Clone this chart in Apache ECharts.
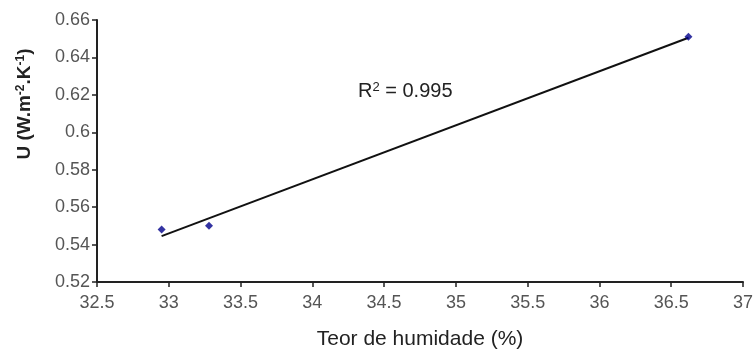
<!DOCTYPE html>
<html>
<head>
<meta charset="utf-8">
<script src="https://cdn.jsdelivr.net/npm/echarts@6/dist/echarts.min.js"></script>
<style>
  html, body { margin: 0; padding: 0; background: #fff; }
  #chart { width: 756px; height: 351px; }
</style>
</head>
<body>
<div id="chart"></div>
<script>
// medições
const teorHumidade = [32.95, 33.28, 36.62];
const valorU = [0.548, 0.550, 0.651];
// recta de tendência (extremos)
const trendX = [32.95, 36.62];
const trendY = [0.5445, 0.6505];

const points = teorHumidade.map((x, i) => [x, valorU[i]]);
const trend = trendX.map((x, i) => [x, trendY[i]]);

const chart = echarts.init(document.getElementById('chart'));

const option = {
  animation: false,
  grid: { left: 97, right: 13, top: 20, bottom: 69, outerBoundsMode: 'none' },
  xAxis: {
    type: 'value',
    min: 32.5, max: 37, interval: 0.5,
    name: 'Teor de humidade (%)',
    nameLocation: 'middle',
    nameGap: 47,
    nameTextStyle: { fontFamily: 'Liberation Sans', fontSize: 21, color: '#222' },
    axisLine: { lineStyle: { color: '#222', width: 2 } },
    axisTick: { length: 5, lineStyle: { color: '#222', width: 1.5 } },
    axisLabel: { fontFamily: 'Liberation Sans', fontSize: 18, color: '#555', margin: 12 },
    splitLine: { show: false }
  },
  yAxis: {
    type: 'value',
    min: 0.52, max: 0.66, interval: 0.02,
    axisLine: { show: true, lineStyle: { color: '#222', width: 2 } },
    axisTick: { show: true, length: 5, lineStyle: { color: '#222', width: 1.5 } },
    axisLabel: {
      fontFamily: 'Liberation Sans', fontSize: 18, color: '#555', margin: 7,
      formatter: v => String(+v.toFixed(2))
    },
    splitLine: { show: false }
  },
  series: [
    {
      type: 'line',
      data: trend,
      symbol: 'none',
      lineStyle: { color: '#111', width: 2 },
      z: 2
    },
    {
      type: 'scatter',
      data: points,
      symbol: 'diamond',
      symbolSize: 8,
      itemStyle: { color: '#00008b' },
      z: 3
    }
  ],
  graphic: [
    {
      // título do eixo y, deslocado para cima como no original
      type: 'text',
      x: 25,
      y: 104,
      rotation: Math.PI / 2,
      style: {
        text: 'U (W.m{sup|-2}.K{sup|-1})',
        fontFamily: 'Liberation Sans',
        fontSize: 19,
        fontWeight: 'bold',
        fill: '#222',
        align: 'center',
        verticalAlign: 'middle',
        rich: {
          sup: { fontFamily: 'Liberation Sans', fontSize: 12, fontWeight: 'bold', fill: '#222', verticalAlign: 'top', padding: [0, 0, 8, 0] }
        }
      }
    },
    {
      type: 'text',
      left: 358,
      top: 81,
      style: {
        text: 'R{sup|2} = 0.995',
        fontFamily: 'Liberation Sans',
        fontSize: 20,
        fill: '#222',
        rich: {
          sup: { fontSize: 13, verticalAlign: 'top', padding: [0, 0, 8, 0], fontFamily: 'Liberation Sans', fill: '#222' }
        }
      }
    }
  ]
};

chart.setOption(option);
</script>
</body>
</html>
